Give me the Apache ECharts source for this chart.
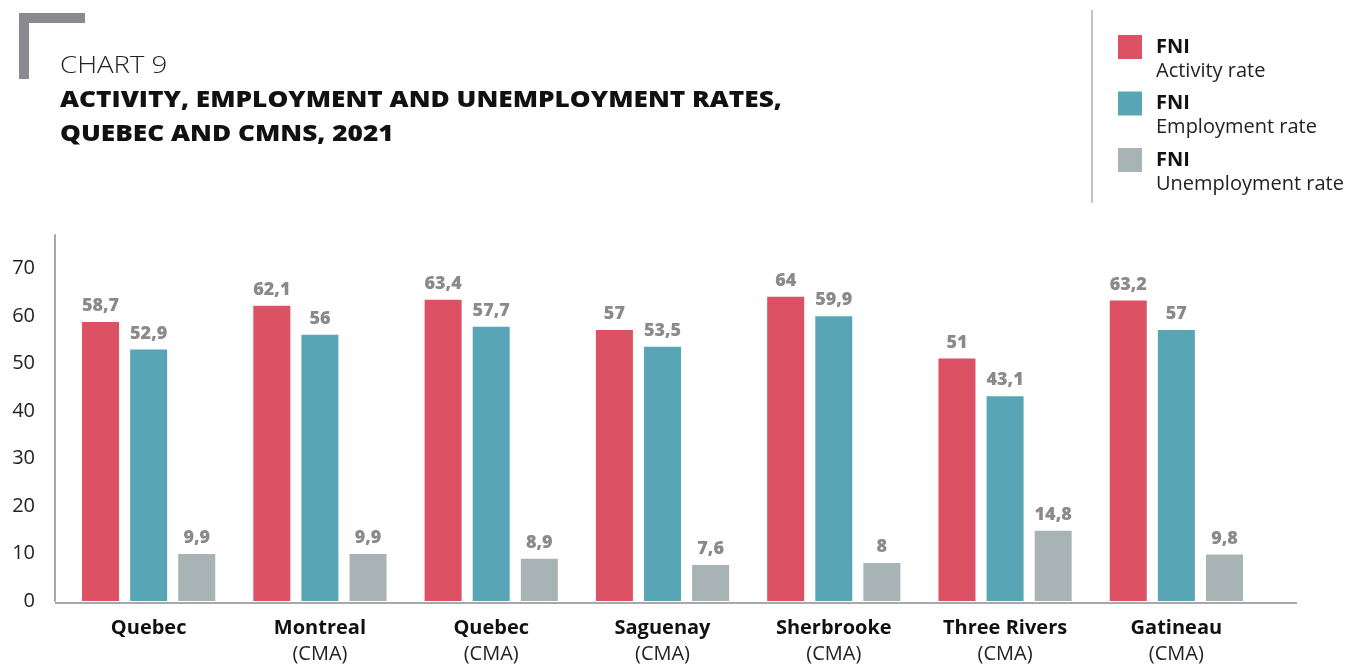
<!DOCTYPE html>
<html>
<head>
<meta charset="utf-8">
<script src="https://cdn.jsdelivr.net/npm/echarts@6/dist/echarts.min.js"></script>
<style>
  html, body { margin: 0; padding: 0; background: #fff; }
  #chart { width: 1348px; height: 664px; }
</style>
</head>
<body>
<div id="chart"></div>
<script>
// Regions (first line bold, second line optional)
const regionNames = ['Quebec', 'Montreal', 'Quebec', 'Saguenay', 'Sherbrooke', 'Three Rivers', 'Gatineau'];
const regionSubs = ['', '(CMA)', '(CMA)', '(CMA)', '(CMA)', '(CMA)', '(CMA)'];

// Rates (%) for First Nations and Inuit, 2021
const activityRate = [58.7, 62.1, 63.4, 57, 64, 51, 63.2];
const employmentRate = [52.9, 56, 57.7, 53.5, 59.9, 43.1, 57];
const unemploymentRate = [9.9, 9.9, 8.9, 7.6, 8, 14.8, 9.8];

const seriesNames = ['Activity rate', 'Employment rate', 'Unemployment rate'];
const seriesColors = ['#dc5163', '#58a5b5', '#a7b3b4'];
const yTicks = [0, 10, 20, 30, 40, 50, 60, 70];

const FONT = '"Open Sans"';
const fmt = v => String(v).replace('.', ',');

const chart = echarts.init(document.getElementById('chart'), null, { renderer: 'canvas' });

const categories = regionNames.map((n, i) => regionSubs[i] ? n + '\n' + regionSubs[i] : n);

function makeSeries(name, data, color) {
  return {
    name: name,
    type: 'bar',
    data: data,
    barWidth: 37,
    barGap: '30%',
    itemStyle: { color: color },
    label: {
      show: true,
      position: 'top',
      distance: 7,
      formatter: p => fmt(p.value),
      color: '#8a8a8c',
      fontFamily: FONT,
      fontWeight: 800,
      fontSize: 18
    }
  };
}

// Legend block on the right: swatch + "FNI" + rate name
const legendGraphics = [];
seriesNames.forEach((name, i) => {
  const top = 35 + i * 56.5;
  legendGraphics.push({
    type: 'rect', left: 1118, top: top,
    shape: { width: 24, height: 24 },
    style: { fill: seriesColors[i] }
  });
  legendGraphics.push({
    type: 'text', x: 1156, y: top,
    style: {
      text: '{b|FNI}\n{n|' + name + '}',
      rich: {
        b: { fontFamily: FONT, fontWeight: 'bold', fontSize: 20, lineHeight: 24, fill: '#111' },
        n: { fontFamily: FONT, fontSize: 20, lineHeight: 24, fill: '#222' }
      }
    }
  });
});

const option = {
  backgroundColor: '#fff',
  animation: false,
  grid: { left: 63, right: 86, top: 235, bottom: 61, containLabel: false },
  xAxis: {
    type: 'category',
    data: categories,
    axisLine: { show: false },
    axisTick: { show: false },
    axisLabel: {
      interval: 0,
      margin: 14,
      formatter: v => {
        const parts = v.split('\n');
        return parts.length > 1 ? '{b|' + parts[0] + '}\n{n|' + parts[1] + '}' : '{b|' + parts[0] + '}';
      },
      rich: {
        b: { fontFamily: FONT, fontWeight: 'bold', fontSize: 20, lineHeight: 26, color: '#111' },
        n: { fontFamily: FONT, fontSize: 20, lineHeight: 26, color: '#222' }
      }
    }
  },
  yAxis: {
    type: 'value',
    min: 0,
    max: 77,
    interval: 10,
    offset: 8,
    axisLine: { show: true, lineStyle: { color: '#a8a8a8', width: 2 } },
    axisTick: { show: false },
    splitLine: { show: false },
    axisLabel: {
      showMaxLabel: false,
      margin: 20,
      padding: [0, 0, 12, 0],
      color: '#222',
      fontFamily: FONT,
      fontSize: 20,
      formatter: v => (yTicks.indexOf(v) >= 0 ? String(v) : '')
    }
  },
  series: [
    makeSeries(seriesNames[0], activityRate, seriesColors[0]),
    makeSeries(seriesNames[1], employmentRate, seriesColors[1]),
    makeSeries(seriesNames[2], unemploymentRate, seriesColors[2])
  ],
  graphic: [
    // corner bracket
    { type: 'rect', left: 19, top: 13, shape: { width: 66, height: 10 }, style: { fill: '#8a8a8e' } },
    { type: 'rect', left: 19, top: 13, shape: { width: 10, height: 66 }, style: { fill: '#8a8a8e' } },
    // heading (slightly widened lettering)
    { type: 'text', x: 60, y: 55, scaleX: 1.2, style: { text: 'CHART 9', fontFamily: FONT, fontSize: 23, fontWeight: 300, fill: '#222' } },
    { type: 'text', x: 60, y: 89, scaleX: 1.14, style: { text: 'ACTIVITY, EMPLOYMENT AND UNEMPLOYMENT RATES,', fontFamily: FONT, fontSize: 23, fontWeight: 800, fill: '#111' } },
    { type: 'text', x: 60, y: 123, scaleX: 1.14, style: { text: 'QUEBEC AND CMNS, 2021', fontFamily: FONT, fontSize: 23, fontWeight: 800, fill: '#111' } },
    // legend separator
    { type: 'line', shape: { x1: 1092, y1: 10, x2: 1092, y2: 203 }, style: { stroke: '#b0b0b0', lineWidth: 1.5 } },
    // baseline
    { type: 'line', z: 10, shape: { x1: 55, y1: 603, x2: 1297, y2: 603 }, style: { stroke: '#a8a8a8', lineWidth: 2 } }
  ].concat(legendGraphics)
};

chart.setOption(option);
</script>
</body>
</html>
